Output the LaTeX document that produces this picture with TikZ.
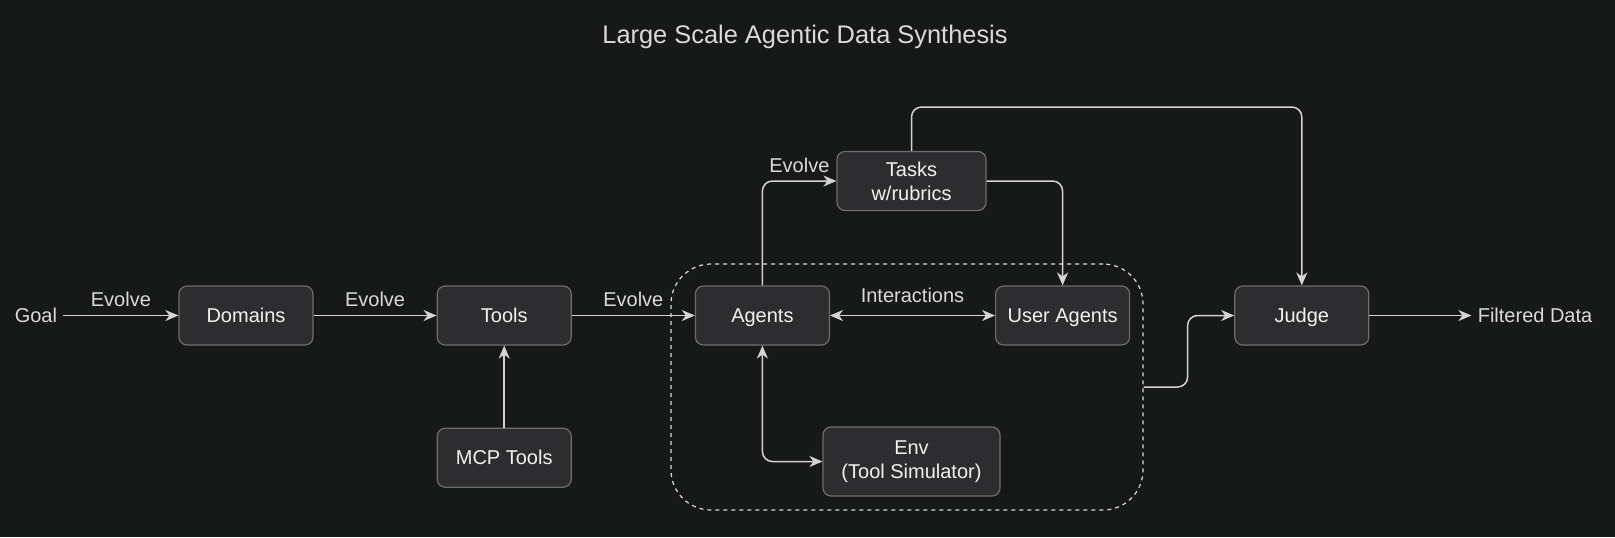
\documentclass[tikz,border=0pt]{standalone}
\usepackage{fontspec}
\setmainfont{Liberation Sans}
\usepackage{xcolor}
\usetikzlibrary{positioning,calc,arrows.meta}

\definecolor{bg}{HTML}{171818}
\definecolor{boxfill}{HTML}{2D2D30}
\definecolor{boxline}{HTML}{6E6E6E}
\definecolor{linecol}{HTML}{D4D4D4}
\definecolor{txt}{HTML}{F2F2F2}
\definecolor{lbltxt}{HTML}{DADADA}

\begin{document}
\begin{tikzpicture}[x=0.5pt, y=-0.5pt,
        >={Stealth[length=6.5pt,width=5.5pt,inset=2pt]},
        boxbase/.style={draw=boxline, fill=boxfill, line width=0.6pt, rounded corners=4pt,
            minimum width=67pt, minimum height=29.5pt, text=txt,
            font=\fontsize{10}{12}\selectfont, align=center, inner sep=1pt},
        box/.style={boxbase, text height=7.2pt, text depth=0pt},
        box2/.style={boxbase},
        lbl/.style={text=lbltxt, font=\fontsize{10}{12}\selectfont, inner sep=1pt},
        flow/.style={draw=linecol, line width=0.75pt, rounded corners=5pt}]
        \fill[bg] (0,0) rectangle (1615,537);
        \useasboundingbox (0,0) rectangle (1615,537);

        \node[lbl, font=\fontsize{12.7}{15}\selectfont] (title) at (805,37) {Large Scale Agentic Data Synthesis};

        % dashed group round the agent loop
        \node[draw=lbltxt, line width=0.6pt, dash pattern=on 2pt off 2pt, rounded corners=20pt,
            minimum width=236pt, minimum height=123pt] (group) at (907,387) {};

        \node[box] (domains) at (246,315.5) {Domains};
        \node[box, right=61.5pt of domains] (tools) {Tools};
        \node[box, right=61.5pt of tools] (agents) {Agents};
        \node[box, right=82.5pt of agents] (user) {User Agents};
        \node[box, right=52pt of user] (judge) {Judge};
        \node[box, below=41pt of tools] (mcp) {MCP Tools};
        \node[box2, minimum width=74.5pt] (tasks) at (911.5,181) {Tasks\\w/rubrics};
        \node[box2, minimum width=88.5pt, minimum height=34.5pt] (env) at (911.5,461.5) {Env\\(Tool Simulator)};

        \node[lbl, inner sep=3pt, left=57.5pt of domains] (goal) {Goal};
        \node[lbl, inner sep=3pt, right=51pt of judge] (data) {Filtered Data};
        \coordinate (topturn) at (911.5,107);

        \draw[flow, ->] (goal) -- node[lbl, above=3pt] {Evolve} (domains);
        \draw[flow, ->] (domains) -- node[lbl, above=3pt] {Evolve} (tools);
        \draw[flow, ->] (tools) -- node[lbl, above=3pt] {Evolve} (agents);
        \draw[flow, ->] (mcp) -- (tools);
        \draw[flow, <->] (agents) -- node[lbl, above=5pt] {Interactions} (user);
        \draw[flow, <->] (agents) |- (env);
        \draw[flow, ->] (agents) |- node[lbl, pos=0.75, above=3pt] {Evolve} (tasks);
        \draw[flow, ->] (tasks) -| (user);
        \draw[flow, ->] (tasks) -- (topturn) -| (judge);
        \draw[flow, ->] (group.east) -- ++(44,0) |- (judge);
        \draw[flow, ->] (judge) -- (data);
    \end{tikzpicture}
\end{document}
